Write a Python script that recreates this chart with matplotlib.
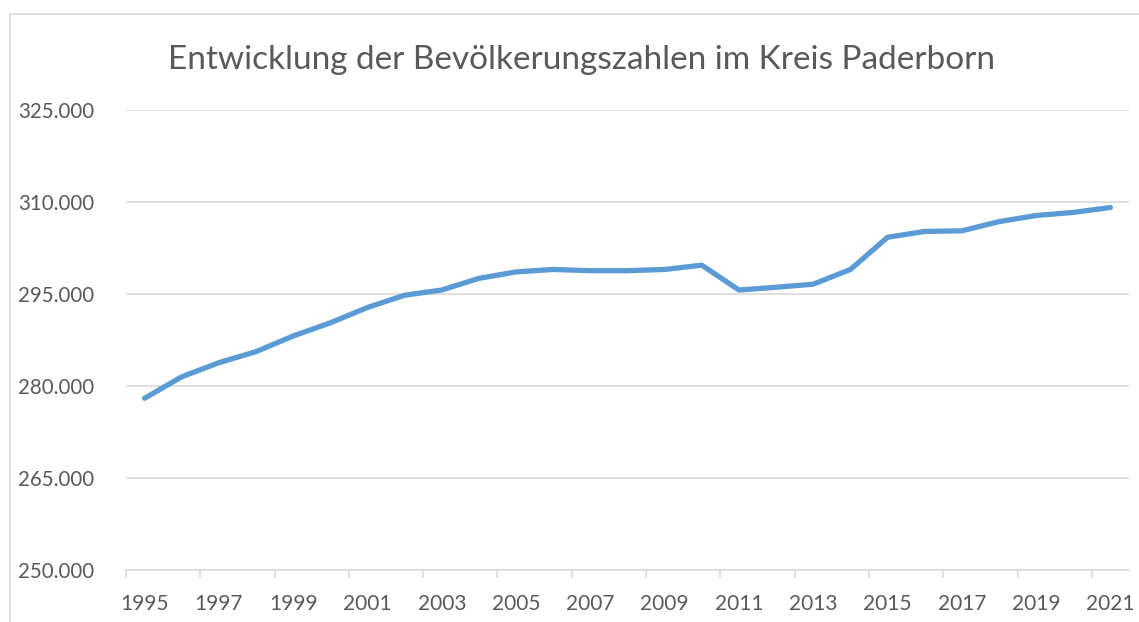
import matplotlib.pyplot as plt
from matplotlib.patches import Rectangle
import numpy as np

years = list(range(1995, 2022))
einwohner = [278.0, 281.5, 283.8, 285.6, 288.15, 290.3, 292.8, 294.8, 295.65, 297.55,
             298.6, 299.0, 298.8, 298.8, 299.0, 299.7, 295.65, 296.1, 296.6, 299.0,
             304.25, 305.2, 305.3, 306.8, 307.8, 308.3, 309.1]
einwohner = [v * 1000 for v in einwohner]
y_ticks = [250000, 265000, 280000, 295000, 310000, 325000]
y_labels = ['250.000', '265.000', '280.000', '295.000', '310.000', '325.000']

W, H = 1139, 622
fig = plt.figure(figsize=(W / 100, H / 100), dpi=100)
plt.rcParams['font.family'] = ['Lato', 'DejaVu Sans']

# chart area border
fig.patches.append(Rectangle((10 / W, -0.01), 1.2, (H - 14) / H + 0.01, transform=fig.transFigure,
                             fill=False, edgecolor='#d9d9d9', linewidth=1.2))

ax = fig.add_axes([126 / W, (H - 570) / H, (1129 - 126) / W, (570 - 110) / H])
x = np.arange(len(years)) + 0.5
ax.plot(x, einwohner, color='#5b9bd5', linewidth=3.8, solid_capstyle='round', solid_joinstyle='round')

ax.set_xlim(0, len(years))
ax.set_ylim(250000, 325000)
ax.set_yticks(y_ticks)
ax.set_yticklabels(y_labels)
ax.yaxis.grid(True, color='#d9d9d9', linewidth=1.2)
ax.set_axisbelow(True)

# tick marks between categories, labels on every 2nd category
ax.set_xticks(np.arange(0, len(years), 2))
ax.set_xticklabels([])
ax.set_xticks(x[::2], minor=True)
ax.set_xticklabels([str(y) for y in years[::2]], minor=True)
ax.tick_params(axis='x', which='major', length=6, width=1.2, color='#d9d9d9', direction='out')
ax.tick_params(axis='x', which='minor', length=0, pad=17, labelsize=15, labelcolor='#595959')
ax.tick_params(axis='y', length=0, pad=23, labelsize=14.8, labelcolor='#595959')

for s in ['top', 'right', 'left']:
    ax.spines[s].set_visible(False)
ax.spines['bottom'].set_color('#d9d9d9')
ax.spines['bottom'].set_linewidth(1.2)

fig.text(581 / W, 1 - 60 / H, 'Entwicklung der Bevölkerungszahlen im Kreis Paderborn',
         ha='center', va='center', fontsize=24, color='#595959')

fig.savefig('out.png', dpi=100)
